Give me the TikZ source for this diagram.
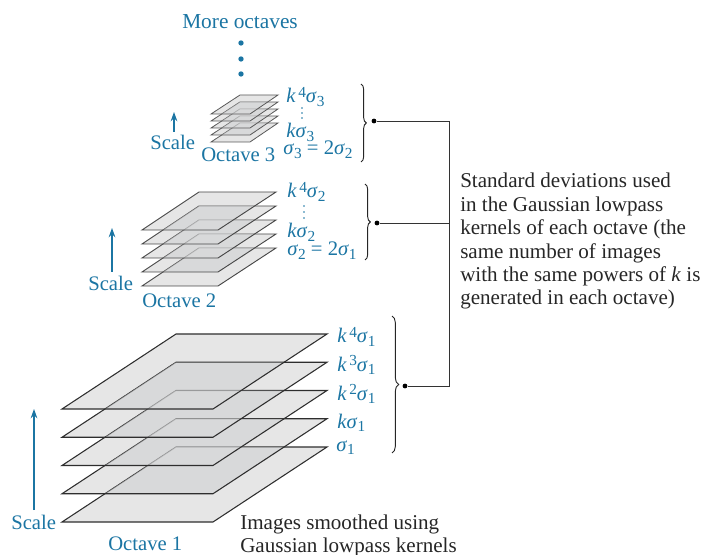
\documentclass[tikz,border=0pt]{standalone}
\usepackage{fontspec}
\setmainfont{Liberation Serif}
\usetikzlibrary{arrows.meta,decorations.pathreplacing}
\definecolor{tblue}{HTML}{1B75A3}
\definecolor{planeface}{HTML}{E6E6E6}
\definecolor{planelap}{HTML}{D8D9DA}
\newcommand{\kk}{\textit{k}}
\newcommand{\sg}{\textit{σ}}
\newcommand{\lsub}[1]{\raisebox{-0.4ex}{\fontsize{11.5pt}{11.5pt}\selectfont #1}}
\newcommand{\hsup}[1]{\raisebox{0.62ex}{\fontsize{11.5pt}{11.5pt}\selectfont\,#1}}
% top y of the upper plane, bottom y of the upper plane, layer step, xBL, xBR, xTR, xTL, line style
\newcommand{\octavestack}[8]{%
  \pgfmathsetmacro{\sx}{(#7-#4)/(#2-#1)*#3}
  \foreach \d in {0,...,4}{
    \pgfmathsetmacro{\ty}{#1+#3*\d}
    \pgfmathsetmacro{\by}{#2+#3*\d}
    \fill[planeface] (#4,\by) -- (#5,\by) -- (#6,\ty) -- (#7,\ty) -- cycle;
  }
  \foreach \d in {0,...,3}{
    \pgfmathsetmacro{\ty}{#1+#3*(\d+1)}
    \pgfmathsetmacro{\by}{#2+#3*\d}
    \fill[planelap] (#4+\sx,\by) -- (#5,\by) -- (#6-\sx,\ty) -- (#7,\ty) -- cycle;
  }
  \foreach \d in {4,3,2,1,0}{
    \pgfmathsetmacro{\ty}{#1+#3*\d}
    \pgfmathsetmacro{\by}{#2+#3*\d}
    \draw[#8] (#4,\by) -- (#5,\by) -- (#6,\ty) -- (#7,\ty) -- cycle;
    \ifnum\d>0
      \pgfmathsetmacro{\uy}{#2+#3*(\d-1)}
      \fill[planelap,fill opacity=0.55] (#4+\sx,\uy) -- (#5,\uy) -- (#6-\sx,\ty) -- (#7,\ty) -- cycle;
    \fi
  }
}
\tikzset{
  planeA/.style={draw=black!82,line width=0.8pt},
  planeB/.style={draw=black!72,line width=0.7pt},
  planeC/.style={draw=black!65,line width=0.6pt},
  bluetext/.style={text=tblue,anchor=base west,inner sep=0pt,font=\fontsize{15.5pt}{15.5pt}\selectfont},
  moretext/.style={bluetext,font=\fontsize{16pt}{16pt}\selectfont},
  blacktext/.style={text=black!85,anchor=base west,inner sep=0pt,font=\fontsize{15.8pt}{16pt}\selectfont},
  scalearrow/.style={draw=tblue,line width=0.9pt,-{Stealth[length=7pt,width=5pt]}},
  bdot/.style={circle,fill=tblue,inner sep=0pt,minimum size=4pt},
  sdot/.style={circle,fill=tblue,inner sep=0pt,minimum size=1.4pt},
  kdot/.style={circle,fill=black,inner sep=0pt,minimum size=3.6pt},
  bracestyle/.style={draw=black!85,line width=0.7pt,decorate,decoration={brace,amplitude=#1,aspect=0.5}},
  leader/.style={draw=black!80,line width=0.65pt}
}
\begin{document}
\begin{tikzpicture}[x=0.75pt,y=-0.75pt]
\useasboundingbox (0,0) rectangle (702,555);
\octavestack{334}{409}{28.25}{62}{213}{327}{176}{planeA}
\octavestack{192}{230}{14}{142}{218}{276}{199}{planeB}
\octavestack{95}{114}{7}{211}{250}{278}{240}{planeC}
% Top
\node[moretext] (more) at (182,29) {More octaves};
\node[bdot] (m1) at (241,43) {};
\node[bdot] (m2) at (241,59) {};
\node[bdot] (m3) at (241,74) {};
% Octave 3 labels
\node[bluetext] (a34) at (286,103) {\kk\hsup{4}\sg\lsub{3}};
\node[sdot] (a3d1) at (302,108) {};
\node[sdot] (a3d2) at (302,113) {};
\node[sdot] (a3d3) at (302,118) {};
\node[bluetext] (a31) at (286,138) {\kk\sg\lsub{3}};
\node[bluetext] (a30) at (283,155) {\sg\lsub{3} = 2\sg\lsub{2}};
\node[bluetext] (s3) at (150,150) {Scale};
\node[bluetext] (o3) at (201,162) {Octave 3};
\coordinate (s3a) at (174,132);
\coordinate (s3b) at (174,112);
\draw[scalearrow] (s3a) -- (s3b);
% Octave 2 labels
\node[bluetext] (a24) at (287,198) {\kk\hsup{4}\sg\lsub{2}};
\node[sdot] (a2d1) at (304,206) {};
\node[sdot] (a2d2) at (304,212) {};
\node[sdot] (a2d3) at (304,218) {};
\node[bluetext] (a21) at (287,238) {\kk\sg\lsub{2}};
\node[bluetext] (a20) at (287,256) {\sg\lsub{2} = 2\sg\lsub{1}};
\node[bluetext] (s2) at (88,291) {Scale};
\node[bluetext] (o2) at (142,308) {Octave 2};
\coordinate (s2a) at (112,272);
\coordinate (s2b) at (112,228);
\draw[scalearrow] (s2a) -- (s2b);
% Octave 1 labels
\node[bluetext] (a14) at (337,343) {\kk\hsup{4}\sg\lsub{1}};
\node[bluetext] (a13) at (337,371) {\kk\hsup{3}\sg\lsub{1}};
\node[bluetext] (a12) at (337,400) {\kk\hsup{2}\sg\lsub{1}};
\node[bluetext] (a11) at (337,428) {\kk\sg\lsub{1}};
\node[bluetext] (a10) at (336,451) {\sg\lsub{1}};
\node[bluetext] (s1) at (11,529) {Scale};
\node[bluetext] (o1) at (108,550) {Octave 1};
\coordinate (s1a) at (34,510);
\coordinate (s1b) at (34,409);
\draw[scalearrow] (s1a) -- (s1b);
% Black text
\node[blacktext] (im1) at (240,529) {Images smoothed using};
\node[blacktext] (im2) at (240,552) {Gaussian lowpass kernels};
\node[blacktext] (t1) at (460,188) {Standard deviations used};
\node[blacktext] (t2) at (460,211.5) {in the Gaussian lowpass};
\node[blacktext] (t3) at (460,235) {kernels of each octave (the};
\node[blacktext] (t4) at (460,258.5) {same number of images};
\node[blacktext] (t5) at (460,282) {with the same powers of \textit{k} is};
\node[blacktext] (t6) at (460,305) {generated in each octave)};
% Braces
\coordinate (b3t) at (361,84);
\coordinate (b3b) at (361,162);
\coordinate (b2t) at (365,184);
\coordinate (b2b) at (365,260);
\coordinate (b1t) at (392,316);
\coordinate (b1b) at (392,453);
\draw[bracestyle=4pt] (b3t) -- (b3b);
\draw[bracestyle=4pt] (b2t) -- (b2b);
\draw[bracestyle=5pt] (b1t) -- (b1b);
% Leaders
\node[kdot] (d3) at (374,121) {};
\node[kdot] (d2) at (377,223) {};
\node[kdot] (d1) at (405,386) {};
\coordinate (c3) at (449,121);
\coordinate (c2) at (449,223);
\coordinate (c1) at (449,386);
\draw[leader] (d3) -- (c3) -- (c1) -- (d1);
\draw[leader] (d2) -- (c2);
\end{tikzpicture}
\end{document}
